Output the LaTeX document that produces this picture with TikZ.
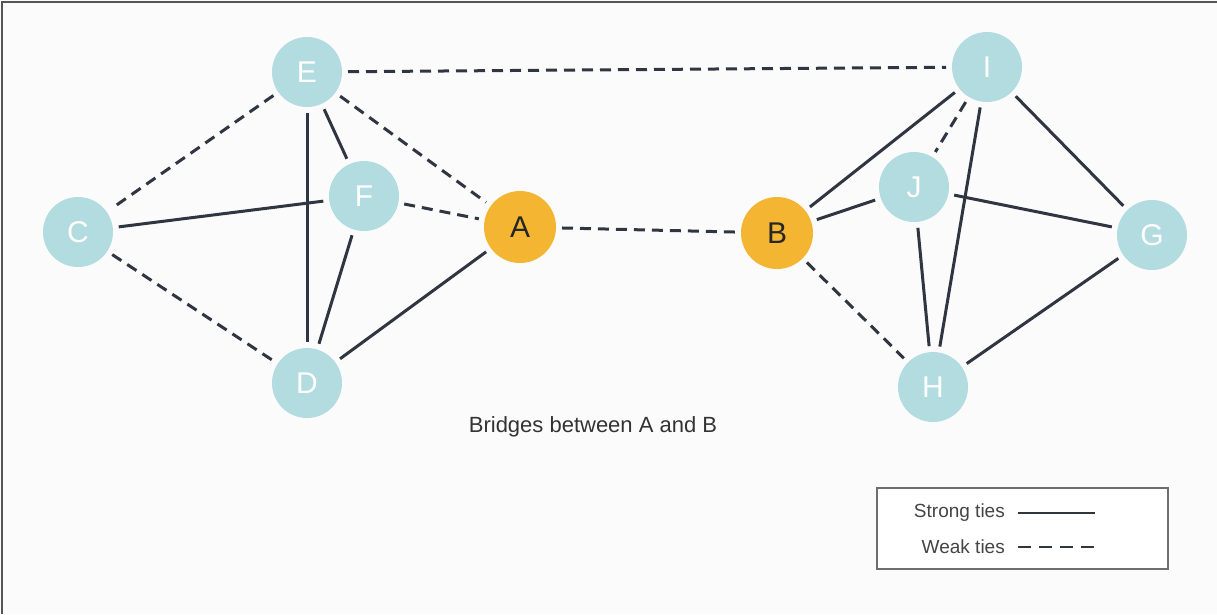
\documentclass[tikz,border=0pt]{standalone}
\usepackage{fontspec}
\setmainfont{Liberation Sans}
\definecolor{bgcol}{HTML}{FBFBFB}
\definecolor{framecol}{HTML}{555555}
\definecolor{tealnode}{HTML}{B2DCE0}
\definecolor{orangenode}{HTML}{F4B632}
\definecolor{edgecol}{HTML}{2F3541}
\definecolor{legendframe}{HTML}{6E6E6E}
\definecolor{legendtext}{HTML}{444444}
\begin{document}
\begin{tikzpicture}[x=1pt,y=-1pt,
  peer/.style={circle,fill=tealnode,minimum size=70pt,inner sep=0pt,outer sep=6pt,
    text=white,font=\fontsize{30}{32}\selectfont},
  bridge/.style={circle,fill=orangenode,minimum size=72pt,inner sep=0pt,outer sep=6pt,
    text=black!85,font=\fontsize{30}{32}\selectfont},
  strongtie/.style={draw=edgecol,line width=3pt},
  weaktie/.style={draw=edgecol,line width=3pt,dash pattern=on 11pt off 7pt},
  legendlabel/.style={anchor=east,text=legendtext,font=\fontsize{19}{21}\selectfont,inner sep=0pt}]

% page and frame
\fill[bgcol] (0,0) rectangle (1217,614);
\useasboundingbox (0,0) rectangle (1217,614);
\draw[framecol,line width=2pt] (2,614) -- (2,2) -- (1217,2);

% left cluster
\node[peer] (E) at (307,72) {E};
\node[peer] (C) at (78,232) {C};
\node[peer] (F) at (364,196) {F};
\node[peer] (D) at (307,383) {D};
% bridge nodes
\node[bridge] (A) at (520,227) {A};
\node[bridge] (B) at (777,233) {B};
% right cluster
\node[peer] (I) at (987,67) {I};
\node[peer] (J) at (914,187) {J};
\node[peer] (G) at (1152,235) {G};
\node[peer] (H) at (933,387) {H};

% ties
\draw[weaktie] (E) -- (I);
\draw[weaktie] (E) -- (C);
\draw[strongtie] (E) -- (F);
\draw[strongtie] (E) -- (D);
\draw[weaktie] (E) -- (A);
\draw[strongtie] (C) -- (F);
\draw[weaktie] (C) -- (D);
\draw[weaktie] (F) -- (A);
\draw[strongtie] (F) -- (D);
\draw[strongtie] (D) -- (A);
\draw[weaktie] (A) -- (B);
\draw[strongtie] (B) -- (I);
\draw[strongtie] (B) -- (J);
\draw[weaktie] (B) -- (H);
\draw[weaktie] (I) -- (J);
\draw[strongtie] (I) -- (H);
\draw[strongtie] (I) -- (G);
\draw[strongtie] (J) -- (G);
\draw[strongtie] (J) -- (H);
\draw[strongtie] (H) -- (G);

% caption
\node[text=black!80,font=\fontsize{22}{24}\selectfont] (caption) at (593,427) {Bridges between A and B};

% legend
\node[draw=legendframe,line width=2pt,fill=white,minimum width=291pt,minimum height=81pt,inner sep=0pt]
  (legend) at (1022,528) {};
\node[legendlabel] (strong) at (1005,513) {Strong ties};
\node[legendlabel] (weak) at (1005,547) {Weak ties};
\coordinate (strongend) at (1095,513);
\coordinate (weakend) at (1095,547);
\draw[strongtie,line width=2.6pt] ([xshift=13pt]strong.east) -- (strongend);
\draw[weaktie,line width=2.6pt,dash pattern=on 13pt off 8pt] ([xshift=13pt]weak.east) -- (weakend);
\end{tikzpicture}
\end{document}
